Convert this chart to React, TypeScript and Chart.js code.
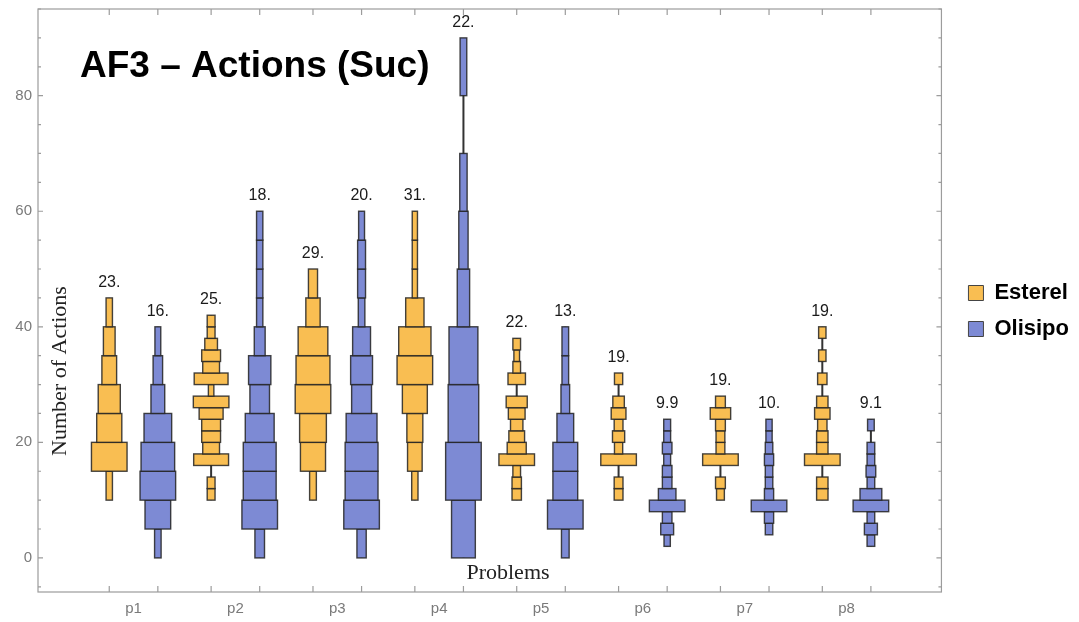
import React, { useEffect, useRef } from 'react';
import { Chart, registerables } from 'chart.js';

Chart.register(...registerables);

const categories = ['p1', 'p2', 'p3', 'p4', 'p5', 'p6', 'p7', 'p8'];
const seriesNames = ['Esterel', 'Olisipo'];
const yTicks = [0, 20, 40, 60, 80];

// Esterel: lower edge of the first bin, bin size, relative bin widths (bottom -> top)
const esterelStart = [10, 10, 10, 10, 10, 10, 10, 10];
const esterelBinSize = [5, 2, 5, 5, 2, 2, 2, 2];
const esterelBins = [
  [7.7, 36.7, 26.3, 23.3, 16, 13, 7.7],
  [9, 9, 0, 35.3, 17.7, 19.7, 19.7, 24.7, 36, 6.7, 34.3, 17.7, 19.7, 13.7, 9, 9],
  [8.3, 27, 28.7, 37.7, 36, 31.7, 16, 10.7],
  [7.9, 16.4, 17.8, 27, 37.9, 34.5, 20.2, 6.8, 6.8, 6.8],
  [10.7, 10.7, 9, 36.7, 20.3, 17, 13.7, 18, 22.3, 0, 18.7, 9, 7, 9],
  [10.3, 10.3, 0, 37.3, 9.7, 13.7, 10.3, 16.3, 13, 0, 9.7],
  [9.3, 11.3, 0, 37.3, 10.3, 10.3, 11.3, 22, 11.3],
  [12.7, 12.7, 0, 36.7, 12.7, 12.7, 10.7, 16.7, 12.7, 0, 10.7, 0, 8.7, 0, 8.7],
];
const esterelMeans = [23, 25, 29, 31, 22, 19, 19, 19];

// Olisipo
const olisipoStart = [0, 0, 0, 0, 0, 2, 4, 2];
const olisipoBinSize = [5, 5, 5, 10, 5, 2, 2, 2];
const olisipoBins = [
  [8, 27.3, 37.3, 35.3, 29.3, 15.3, 11, 7.3],
  [11, 37, 34.3, 34.3, 30.3, 21, 23.7, 12.3, 7.7, 7.7, 7.7, 7.7],
  [10.7, 37, 34.3, 34.3, 32.3, 21.3, 23.3, 19.3, 8, 9.3, 9.3, 7.3],
  [25.6, 37.6, 32.5, 30.8, 14, 10.9, 8.9, 0, 8.2],
  [9, 36.7, 26, 26, 18, 10, 8, 8],
  [7.7, 14.3, 11, 37, 19, 11, 11, 8.3, 11, 8.3, 8.3],
  [9, 10.7, 37.3, 10.7, 9, 9, 10.7, 9, 7.7, 7.7],
  [9, 14.3, 9, 36.7, 23, 9, 11, 9, 9, 0, 8],
];
const olisipoMeans = [16, 18, 20, 22, 13, 9.9, 10, 9.1];

// ---- styling (not data) ----
const COLORS = ['#F9BE52', '#7D8AD4'];
const OFFSETS = [-0.2385, 0.2385];
const MAXW = 37 / 101.88; // widest bin width in x units
const LW = 1.4;
const SANS = '"Liberation Sans", Arial, sans-serif';
const SERIF = '"Liberation Serif", "Times New Roman", serif';
const TICK_COLOR = '#7a7a7a';
const FRAME_COLOR = '#9c9c9c';

const fmt = (v: number) => (v >= 10 ? `${Math.round(v)}.` : v.toFixed(1));

const series = [
  { start: esterelStart, size: esterelBinSize, bins: esterelBins, means: esterelMeans },
  { start: olisipoStart, size: olisipoBinSize, bins: olisipoBins, means: olisipoMeans },
];

const histPlugin = {
  id: 'histPlugin',
  beforeDatasetsDraw(chart: any) {
    const { ctx, scales } = chart;
    const xs = scales.x;
    const ys = scales.y;
    ctx.save();
    series.forEach((s, si) => {
      categories.forEach((_, i) => {
        const cx = i + 1 + OFFSETS[si];
        const bins = s.bins[i];
        const start = s.start[i];
        const size = s.size[i];
        const maxF = Math.max(...bins);
        const px = xs.getPixelForValue(cx);
        const yLo = ys.getPixelForValue(start);
        const yHi = ys.getPixelForValue(start + size * bins.length);
        // whisker
        ctx.strokeStyle = '#333333';
        ctx.lineWidth = 2;
        ctx.beginPath();
        ctx.moveTo(px, yLo);
        ctx.lineTo(px, yHi);
        ctx.stroke();
        // bins
        ctx.lineWidth = LW;
        ctx.strokeStyle = 'rgba(35,35,35,0.85)';
        ctx.fillStyle = COLORS[si];
        bins.forEach((f, k) => {
          if (f <= 0) return;
          const hw = (f / maxF) * MAXW / 2;
          const l = xs.getPixelForValue(cx - hw) + LW / 2;
          const r = xs.getPixelForValue(cx + hw) - LW / 2;
          const b = ys.getPixelForValue(start + k * size);
          const t = ys.getPixelForValue(start + (k + 1) * size);
          ctx.fillRect(l, t, r - l, b - t);
          ctx.strokeRect(l, t, r - l, b - t);
        });
        // mean label
        ctx.fillStyle = '#1a1a1a';
        ctx.font = `16px ${SANS}`;
        ctx.textAlign = 'center';
        ctx.textBaseline = 'alphabetic';
        ctx.fillText(fmt(s.means[i]), px, yHi - 11);
      });
    });
    ctx.restore();
  },
  afterDraw(chart: any) {
    const { ctx, chartArea, scales } = chart;
    const xs = scales.x;
    const ys = scales.y;
    const { left, right, top, bottom } = chartArea;
    ctx.save();
    // frame
    ctx.strokeStyle = FRAME_COLOR;
    ctx.lineWidth = 1.2;
    ctx.strokeRect(left, top, right - left, bottom - top);
    // y ticks
    ctx.beginPath();
    for (let v = -5; v <= 95; v += 5) {
      const py = ys.getPixelForValue(v);
      if (py < top || py > bottom) continue;
      const len = yTicks.includes(v) ? 5 : 3;
      ctx.moveTo(left, py);
      ctx.lineTo(left + len, py);
      ctx.moveTo(right, py);
      ctx.lineTo(right - len, py);
    }
    // x ticks at each distribution
    categories.forEach((_, i) => {
      OFFSETS.forEach((o) => {
        const px = xs.getPixelForValue(i + 1 + o);
        ctx.moveTo(px, bottom);
        ctx.lineTo(px, bottom - 6);
        ctx.moveTo(px, top);
        ctx.lineTo(px, top + 6);
      });
    });
    ctx.stroke();

    // title
    ctx.fillStyle = '#000';
    ctx.font = `bold 37px ${SANS}`;
    ctx.textAlign = 'left';
    ctx.textBaseline = 'alphabetic';
    ctx.fillText('AF3 – Actions (Suc)', 80, 77);

    // axis labels (inside frame)
    ctx.fillStyle = '#222';
    ctx.font = `22px ${SERIF}`;
    ctx.textAlign = 'center';
    ctx.textBaseline = 'middle';
    ctx.fillText('Problems', 508, 573);
    ctx.translate(60, 371);
    ctx.rotate(-Math.PI / 2);
    ctx.fillText('Number of Actions', 0, 0);
    ctx.restore();
  },
};

const noPad = (s: any) => {
  s.paddingTop = 0;
  s.paddingBottom = 0;
  s.paddingLeft = 0;
  s.paddingRight = 0;
};

export default function App() {
  const ref = useRef<HTMLCanvasElement | null>(null);
  useEffect(() => {
    if (!ref.current) return;
    const chart = new Chart(ref.current, {
      type: 'scatter',
      data: {
        datasets: seriesNames.map((name, si) => ({
          label: name,
          data: categories.map((_, i) => ({ x: i + 1 + OFFSETS[si], y: series[si].means[i] })),
          backgroundColor: COLORS[si],
          borderColor: '#444444',
          borderWidth: 1,
          pointRadius: 0,
          pointHoverRadius: 0,
        })),
      },
      options: {
        animation: false,
        responsive: true,
        maintainAspectRatio: false,
        events: [],
        layout: { padding: 0 },
        plugins: {
          legend: {
            position: 'right',
            labels: {
              boxWidth: 15,
              boxHeight: 15,
              padding: 14,
              color: '#000',
              font: { size: 22, weight: 'bold', family: SANS },
            },
          },
          tooltip: { enabled: false },
          title: { display: false },
        },
        scales: {
          x: {
            type: 'linear',
            min: 0.062,
            max: 8.931,
            afterBuildTicks: (s: any) => {
              s.ticks = categories.map((_, i) => ({ value: i + 1 }));
            },
            ticks: {
              callback: (v: any) => categories[Math.round(v) - 1] ?? '',
              color: TICK_COLOR,
              font: { size: 15, family: SANS },
              padding: 8,
              autoSkip: false,
              maxRotation: 0,
            },
            grid: { display: false, drawTicks: false },
            border: { display: false },
            afterFit: (s: any) => {
              s.height = 30;
              noPad(s);
            },
          },
          x2: {
            type: 'linear',
            position: 'top',
            min: 0,
            max: 1,
            ticks: { display: false },
            grid: { display: false, drawTicks: false },
            border: { display: false },
            afterFit: (s: any) => {
              s.height = 9;
              noPad(s);
            },
          },
          y: {
            type: 'linear',
            min: -5.9,
            max: 95,
            afterBuildTicks: (s: any) => {
              s.ticks = yTicks.map((v) => ({ value: v }));
            },
            ticks: { color: TICK_COLOR, font: { size: 15, family: SANS }, padding: 6 },
            grid: { display: false, drawTicks: false },
            border: { display: false },
            afterFit: (s: any) => {
              s.width = 38;
              noPad(s);
            },
          },
          y2: {
            type: 'linear',
            position: 'right',
            min: 0,
            max: 1,
            ticks: { display: false },
            grid: { display: false, drawTicks: false },
            border: { display: false },
            afterFit: (s: any) => {
              s.width = 13;
              noPad(s);
            },
          },
        },
      },
      plugins: [histPlugin],
    });
    return () => chart.destroy();
  }, []);
  return (
    <div style={{ position: 'absolute', left: 0, top: 0, width: 1079, height: 622, background: '#fff' }}>
      <canvas ref={ref} />
    </div>
  );
}
